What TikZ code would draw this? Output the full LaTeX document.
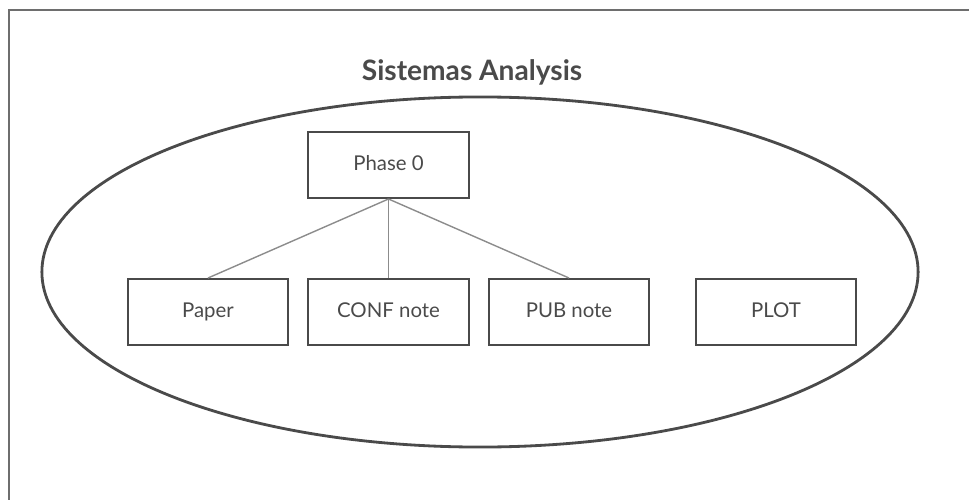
\documentclass[tikz,border=0pt]{standalone}
\usepackage{fontspec}
\setmainfont{Lato}
\usepackage{tikz}
\usetikzlibrary{positioning,shapes.geometric}
\definecolor{framegray}{HTML}{6E6E6E}
\definecolor{inkgray}{HTML}{4A4A4A}
\definecolor{linkgray}{HTML}{8C8C8C}
\tikzset{
  docbox/.style={draw=inkgray,line width=1.4pt,minimum width=4.02cm,
    minimum height=1.65cm,inner sep=0pt,text height=0.72em,text depth=0pt,
    text=inkgray,font=\fontsize{14.5}{17}\selectfont},
  treelink/.style={draw=linkgray,line width=1pt}
}
\begin{document}
\begin{tikzpicture}[x=0.025cm,y=-0.025cm]
\path[use as bounding box] (0,0) rectangle (969,500);
% only the top and left edges of the outer frame fall inside the picture
\draw[framegray,line width=1.8pt] (9,500)--(9,10)--(969,10);
\node[anchor=base,font=\bfseries\fontsize{20}{24}\selectfont,text=inkgray] (title)
  at (472,80) {Sistemas Analysis};
\node[draw=inkgray,line width=2pt,ellipse,minimum width=21.9cm,minimum height=8.75cm,
  inner sep=0pt] (scope) at (480,272) {};

\node[docbox] (phase) at (388.5,165) {Phase 0};
\node[docbox] (paper) at (208,312) {Paper};
\node[docbox] (conf) at (388.5,312) {CONF note};
\node[docbox] (pub) at (569,312) {PUB note};
\node[docbox] (plot) at (776,312) {PLOT};

\draw[treelink] (phase.south)--(paper.north);
\draw[treelink] (phase.south)--(conf.north);
\draw[treelink] (phase.south)--(pub.north);
\end{tikzpicture}
\end{document}
